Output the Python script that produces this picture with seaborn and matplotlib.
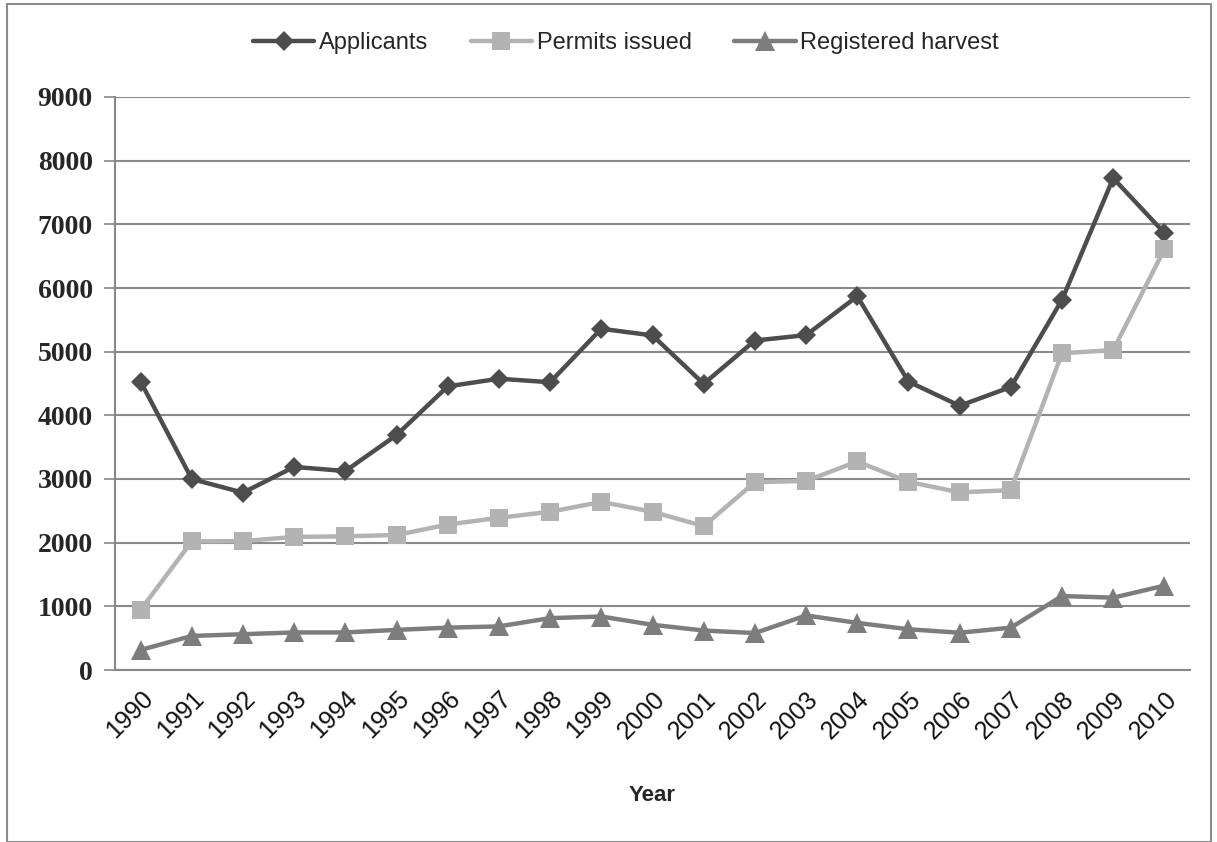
import matplotlib
matplotlib.use("Agg")
import matplotlib.pyplot as plt
import matplotlib.transforms as mtransforms
import seaborn as sns
import numpy as np
import pandas as pd
from matplotlib.patches import Rectangle

years = [str(y) for y in range(1990, 2011)]
applicants = [4530, 3000, 2785, 3190, 3125, 3690, 4455, 4575, 4520, 5360, 5255,
              4495, 5175, 5260, 5870, 4530, 4150, 4445, 5815, 7725, 6865]
permits = [945, 2020, 2025, 2090, 2100, 2120, 2285, 2390, 2485, 2640, 2485,
           2260, 2950, 2970, 3275, 2955, 2790, 2825, 4975, 5025, 6610]
harvest = [315, 535, 562, 590, 590, 630, 665, 685, 815, 840, 710,
           620, 580, 857, 740, 640, 585, 665, 1162, 1136, 1325]
series_names = ["Applicants", "Permits issued", "Registered harvest"]

sns.set_theme(style="white")
plt.rcParams['font.family'] = ['Liberation Sans', 'DejaVu Sans']

W, H = 1217, 842
fig = plt.figure(figsize=(W / 100, H / 100), dpi=100)
ax = fig.add_axes([115 / W, 1 - 670 / H, (1190 - 115) / W, (670 - 97) / H])

idx = np.arange(len(years))
df = pd.DataFrame({"pos": idx, "Applicants": applicants,
                   "Permits issued": permits, "Registered harvest": harvest})

styles = {
    "Applicants": dict(color="#4d4d4d", marker="D", markersize=10),
    "Permits issued": dict(color="#b3b3b3", marker="s", markersize=13.5),
    "Registered harvest": dict(color="#7d7d7d", marker="^", markersize=14),
}
for name in series_names:
    st = styles[name]
    sns.lineplot(data=df, x="pos", y=name, ax=ax, color=st["color"], marker=st["marker"],
                 markersize=st["markersize"], markeredgewidth=0, linewidth=3.2,
                 label=name, zorder=3)

ax.set_xlim(-0.5, len(years) - 0.5)
ax.set_ylim(0, 9000)
ax.set_yticks(range(0, 9001, 1000))
ax.set_yticklabels([str(v) for v in range(0, 9001, 1000)],
                   fontfamily="Liberation Serif", fontweight="bold", fontsize=20)
ax.set_xticks(idx)
ax.set_xticklabels(years, rotation=45, ha="right", rotation_mode="anchor", fontsize=18)
offset = mtransforms.ScaledTranslation(7 / 100, -3 / 100, fig.dpi_scale_trans)
for lab in ax.get_xticklabels():
    lab.set_transform(lab.get_transform() + offset)
    lab.set_color("#111111")
ax.set_xticks(np.arange(-0.5, len(years)), minor=True)
ax.tick_params(axis="x", which="major", length=0, pad=12)
ax.tick_params(axis="x", which="minor", length=8, width=1.2, color="#888888", direction="out")
ax.tick_params(axis="y", length=8, width=1.2, color="#888888", direction="out", pad=8, left=True)
ax.grid(axis="y", color="#8a8a8a", linewidth=1.5)
ax.grid(axis="x", visible=False)
for s in ["top", "right"]:
    ax.spines[s].set_visible(False)
for s in ["left", "bottom"]:
    ax.spines[s].set_color("#888888")
    ax.spines[s].set_linewidth(1.5)
ax.set_ylabel("")
ax.set_xlabel("Year", fontweight="bold", fontsize=16, labelpad=30)

leg = ax.legend(loc="center", bbox_to_anchor=(626 / W, (H - 43) / H), bbox_transform=fig.transFigure,
                ncol=3, frameon=False, fontsize=17, handlelength=2.6, columnspacing=1.8,
                handletextpad=0.2)

fig.patches.append(Rectangle((7 / W, 0), (1211 - 7) / W, 1 - 4 / H, transform=fig.transFigure,
                             fill=False, edgecolor="#8c8c8c", linewidth=1.5))

fig.savefig("out.png", dpi=100)
